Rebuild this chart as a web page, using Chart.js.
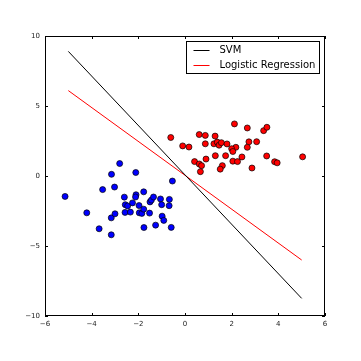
<!DOCTYPE html>
<html>
<head>
<meta charset="utf-8">
<script src="https://cdn.jsdelivr.net/npm/chart.js@4/dist/chart.umd.min.js"></script>
<style>
  html, body { margin: 0; padding: 0; background: #fff; }
  #wrap { width: 361px; height: 361px; }
</style>
</head>
<body>
<div id="wrap"><canvas id="plot" width="361" height="361"></canvas></div>
<script>
// class 0 (blue) samples
const blueX = [-5.14, -4.21, -3.68, -3.16, -3.16, -3.0, -3.53, -3.02, -3.15, -2.8, -2.11, -0.54,
  -2.6, -2.56, -2.46, -2.57, -2.34, -2.25, -2.1, -2.12, -1.97, -1.96, -1.85, -1.77, -1.77, -1.76,
  -1.52, -1.5, -1.44, -1.35, -1.26, -1.05, -1.0, -0.98, -0.91, -0.67, -0.68, -0.59];
const blueY = [-1.46, -2.63, -3.77, -4.2, -2.99, -2.7, -0.97, -0.79, 0.12, 0.89, 0.25, -0.36,
  -1.51, -2.05, -2.14, -2.6, -2.58, -1.92, -1.34, -1.5, -2.11, -2.63, -2.67, -2.37, -1.13, -3.68,
  -2.65, -1.85, -1.72, -1.5, -3.51, -1.64, -2.05, -2.87, -3.17, -1.67, -2.12, -3.67];

// class 1 (red) samples
const redX = [-0.61, -0.1, 0.17, 0.61, 0.87, 1.29, 0.87, 1.24, 1.38, 1.46, 1.56, 1.8, 2.12, 2.67,
  3.37, 3.51, 3.07, 2.74, 2.67, 2.18, 2.0, 2.05, 1.3, 1.74, 2.44, 3.5, 5.04, 0.9, 0.41, 0.61, 0.71,
  0.66, 1.6, 1.51, 2.05, 2.25, 2.87, 3.84, 3.95];
const redY = [2.75, 2.15, 2.07, 2.96, 2.9, 2.85, 2.3, 2.3, 2.42, 2.2, 2.38, 2.29, 3.72, 3.43,
  3.24, 3.48, 2.45, 2.44, 2.05, 2.05, 1.95, 1.75, 1.45, 1.45, 1.36, 1.43, 1.37, 1.21, 1.03, 0.86, 0.74,
  0.31, 0.74, 0.49, 1.06, 1.03, 0.57, 1.02, 0.94];

// decision boundaries
const lineX = [-5, 5];
const svmY = [8.9, -8.74];
const logY = [6.1, -6.0];

// axis ticks
const xTicks = [-6, -4, -2, 0, 2, 4, 6];
const yTicks = [-10, -5, 0, 5, 10];

const toPts = (xs, ys) => xs.map((x, i) => ({ x: x, y: ys[i] }));
const fmt = v => v < 0 ? '\u2212' + Math.abs(v) : String(v);
const FONT = 'DejaVu Sans';

// frame, inward ticks on all four sides, and the legend box
const framePlugin = {
  id: 'frame',
  afterDatasetsDraw(chart) {
    const { ctx, chartArea: a, scales } = chart;
    ctx.save();
    ctx.strokeStyle = '#000';
    ctx.lineWidth = 1;
    ctx.strokeRect(Math.round(a.left) + 0.5, Math.round(a.top) + 0.5,
      Math.round(a.right - a.left) - 1, Math.round(a.bottom - a.top) - 1);
    const len = 3;
    ctx.beginPath();
    xTicks.forEach(v => {
      const px = Math.round(scales.x.getPixelForValue(v)) + 0.5;
      ctx.moveTo(px, a.bottom); ctx.lineTo(px, a.bottom - len);
      ctx.moveTo(px, a.top); ctx.lineTo(px, a.top + len);
    });
    yTicks.forEach(v => {
      const py = Math.round(scales.y.getPixelForValue(v)) + 0.5;
      ctx.moveTo(a.left, py); ctx.lineTo(a.left + len, py);
      ctx.moveTo(a.right, py); ctx.lineTo(a.right - len, py);
    });
    ctx.stroke();

    // legend
    const lines = chart.data.datasets.filter(d => d.type === 'line');
    const bx = 186.5, by = 41.5, bw = 133, bh = 32;
    ctx.fillStyle = '#fff';
    ctx.fillRect(bx, by, bw, bh);
    ctx.strokeRect(bx, by, bw, bh);
    ctx.font = '10px "' + FONT + '"';
    ctx.textBaseline = 'middle';
    lines.forEach((d, i) => {
      const y = Math.round(by + 8 + i * 15) + 0.5;
      ctx.strokeStyle = d.borderColor;
      ctx.beginPath();
      ctx.moveTo(bx + 7, y); ctx.lineTo(bx + 23, y);
      ctx.stroke();
      ctx.fillStyle = '#000';
      ctx.fillText(d.label, bx + 33, y);
    });
    ctx.restore();
  }
};

new Chart(document.getElementById('plot'), {
  type: 'scatter',
  data: {
    datasets: [
      {
        type: 'line', label: 'SVM', data: toPts(lineX, svmY),
        borderColor: '#000', borderWidth: 1, pointRadius: 0, fill: false
      },
      {
        type: 'line', label: 'Logistic Regression', data: toPts(lineX, logY),
        borderColor: '#ff0000', borderWidth: 1, pointRadius: 0, fill: false
      },
      {
        label: 'class 0', data: toPts(blueX, blueY),
        backgroundColor: '#0000ff', borderColor: '#000', borderWidth: 0.7, pointRadius: 3
      },
      {
        label: 'class 1', data: toPts(redX, redY),
        backgroundColor: '#ff0000', borderColor: '#000', borderWidth: 0.7, pointRadius: 3
      }
    ]
  },
  options: {
    responsive: false,
    animation: false,
    layout: { padding: { top: 36, right: 36, left: 0, bottom: 0 } },
    plugins: { legend: { display: false }, tooltip: { enabled: false } },
    scales: {
      x: {
        type: 'linear', min: -6, max: 6,
        afterBuildTicks: s => { s.ticks = xTicks.map(v => ({ value: v })); },
        afterFit: s => { s.height = 45; },
        grid: { display: false, drawTicks: false },
        border: { display: false },
        ticks: {
          callback: fmt, padding: 4, maxRotation: 0, autoSkip: false,
          color: '#222', font: { family: FONT, size: 7 }
        }
      },
      y: {
        type: 'linear', min: -10, max: 10,
        afterBuildTicks: s => { s.ticks = yTicks.map(v => ({ value: v })); },
        afterFit: s => { s.width = 45; },
        grid: { display: false, drawTicks: false },
        border: { display: false },
        ticks: {
          callback: fmt, padding: 5, autoSkip: false,
          color: '#222', font: { family: FONT, size: 7 }
        }
      }
    }
  },
  plugins: [framePlugin]
});
</script>
</body>
</html>
